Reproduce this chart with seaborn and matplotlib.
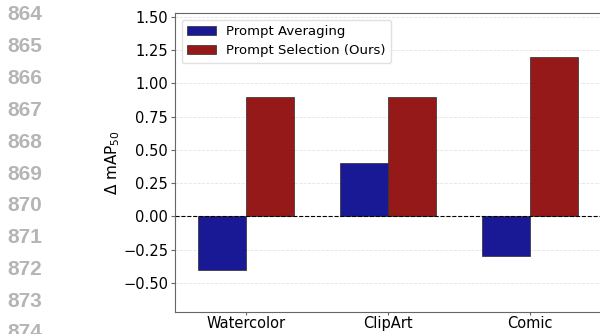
import seaborn as sns
import matplotlib.pyplot as plt
import pandas as pd

# values
datasets = ['Watercolor', 'ClipArt', 'Comic']
prompt_averaging = [-0.40, 0.40, -0.30]
prompt_selection = [0.90, 0.90, 1.20]
methods = ['Prompt Averaging', 'Prompt Selection (Ours)']
line_numbers = list(range(864, 875))

df = pd.DataFrame({
    'dataset': datasets * 2,
    'delta': prompt_averaging + prompt_selection,
    'method': [methods[0]] * 3 + [methods[1]] * 3,
})

sns.set_style('white')
plt.rcParams['text.color'] = 'black'
plt.rcParams['xtick.color'] = 'black'
plt.rcParams['ytick.color'] = 'black'
plt.rcParams['axes.labelcolor'] = 'black'

fig = plt.figure(figsize=(6, 3.34), dpi=100)
ax = fig.add_axes([0.2917, 0.066, 0.71, 0.895])

sns.barplot(data=df, x='dataset', y='delta', hue='method', ax=ax,
            palette=['darkblue', 'darkred'], saturation=1, width=0.67,
            alpha=0.9, edgecolor='0.2', linewidth=0.6)

ax.axhline(0, color='black', linestyle='--', linewidth=0.8)
ax.yaxis.grid(True, linestyle='--', color='0.85', linewidth=0.6, alpha=0.7)
ax.set_axisbelow(True)
ax.set_ylim(-0.717, 1.528)
ax.set_xlim(-0.5, 2.5)
ax.set_yticks([-0.5, -0.25, 0, 0.25, 0.5, 0.75, 1.0, 1.25, 1.5])
ax.set_yticklabels([f'{v:.2f}'.replace('-', '\u2212') for v in ax.get_yticks()])
ax.set_xlabel('')
ax.set_ylabel(r'$\Delta$ mAP$_{50}$', fontsize=11, labelpad=1)
ax.tick_params(axis='both', labelsize=10.5)
ax.tick_params(axis='y', left=True, length=3, color='0.4', pad=2)
ax.tick_params(axis='x', bottom=True, length=2, color='0.4', pad=1)
for s in ax.spines.values():
    s.set_color('0.4')

ax.legend(loc='upper left', fontsize=9.5, frameon=True, framealpha=0.8,
          edgecolor='0.85', handlelength=2.2)

# paper line numbers in the margin
for i, n in enumerate(line_numbers):
    fig.text(0.013, 1 - (15 + i * 31.8) / 334, str(n), color='#b5b5b5',
             fontsize=15, fontweight='bold', family='Liberation Sans',
             va='center', ha='left')

fig.savefig('out.png', dpi=100)
